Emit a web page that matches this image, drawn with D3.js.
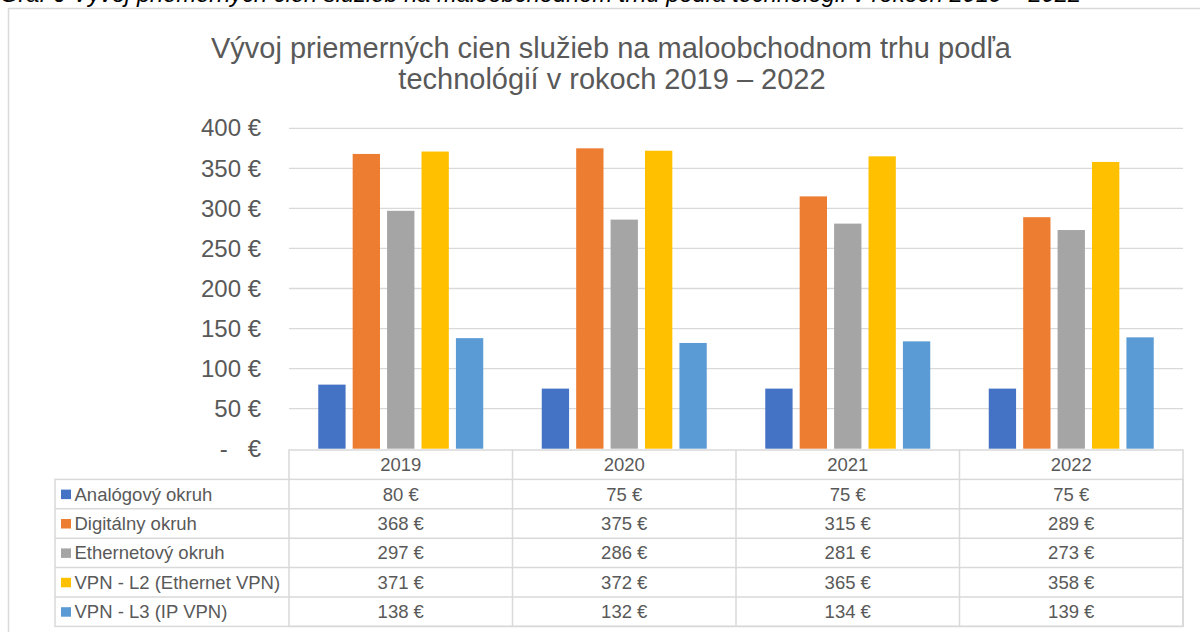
<!DOCTYPE html>
<html>
<head>
<meta charset="utf-8">
<script src="https://cdn.jsdelivr.net/npm/d3@7"></script>
<style>
  body { margin: 0; background: #fff; }
  text { font-family: "Liberation Sans", Arial, sans-serif; }
</style>
</head>
<body>
<svg id="chart" width="1200" height="632"></svg>
<script>
// data
var years = ["2019", "2020", "2021", "2022"];
var seriesNames = ["Analógový okruh", "Digitálny okruh", "Ethernetový okruh", "VPN - L2 (Ethernet VPN)", "VPN - L3 (IP VPN)"];
var analogovy = [80, 75, 75, 75];
var digitalny = [368, 375, 315, 289];
var ethernetovy = [297, 286, 281, 273];
var vpnL2 = [371, 372, 365, 358];
var vpnL3 = [138, 132, 134, 139];
var yTicks = [0, 50, 100, 150, 200, 250, 300, 350, 400];
var colors = ["#4472C4", "#ED7D31", "#A5A5A5", "#FFC000", "#5B9BD5"];

var seriesValues = [analogovy, digitalny, ethernetovy, vpnL2, vpnL3];

var svg = d3.select("#chart");
var grid = "#d9d9d9", txt = "#595959";

// caption above the chart (cut off at the top in the reference)
svg.append("text")
   .attr("x", 0).attr("y", 1.5)
   .attr("font-size", 23.7)
   .attr("font-style", "italic")
   .attr("fill", "#000")
   .text("Graf 6 Vývoj priemerných cien služieb na maloobchodnom trhu podľa technológií v rokoch 2019 – 2022");

// chart frame
svg.append("rect")
   .attr("x", 8.5).attr("y", 8.5)
   .attr("width", 1210).attr("height", 640)
   .attr("fill", "none").attr("stroke", grid).attr("stroke-width", 1.5);

// title
var title = svg.append("text")
   .attr("text-anchor", "middle")
   .attr("font-size", 29)
   .attr("fill", txt);
title.append("tspan").attr("x", 611).attr("y", 58).text("Vývoj priemerných cien služieb na maloobchodnom trhu podľa");
title.append("tspan").attr("x", 612).attr("y", 89).text("technológií v rokoch 2019 – 2022");

var plot = {left: 289, right: 1183, top: 128.3, bottom: 448.7};

var x0 = d3.scaleBand().domain(years).range([plot.left, plot.right]).padding(0);
var x1 = d3.scaleBand().domain(d3.range(seriesNames.length))
           .range([0, x0.bandwidth()]).paddingInner(0.206).paddingOuter(0.85);
var y = d3.scaleLinear().domain([0, 400]).range([plot.bottom, plot.top]);

// gridlines
svg.append("g")
   .selectAll("line")
   .data(yTicks.filter(function(d) { return d > 0; }))
   .enter().append("line")
   .attr("x1", plot.left).attr("x2", plot.right)
   .attr("y1", function(d) { return y(d); })
   .attr("y2", function(d) { return y(d); })
   .attr("stroke", grid).attr("stroke-width", 1.3);

// y axis labels
var yAxis = svg.append("g")
   .attr("transform", "translate(" + plot.left + ",0)")
   .call(d3.axisLeft(y).tickValues(yTicks).tickSize(0).tickPadding(28)
           .tickFormat(function(d) { return d === 0 ? "-   €" : d + " €"; }));
yAxis.select(".domain").remove();
yAxis.selectAll("text")
   .attr("font-size", 24)
   .attr("fill", txt)
   .style("font-family", "'Liberation Sans', Arial, sans-serif")
   .style("white-space", "pre");

// bars
var groups = svg.append("g")
   .selectAll("g")
   .data(years)
   .enter().append("g")
   .attr("transform", function(d) { return "translate(" + x0(d) + ",0)"; });

groups.selectAll("rect")
   .data(function(d, i) { return seriesValues.map(function(s, k) { return {k: k, v: s[i]}; }); })
   .enter().append("rect")
   .attr("x", function(d) { return x1(d.k); })
   .attr("width", x1.bandwidth())
   .attr("y", function(d) { return y(d.v); })
   .attr("height", function(d) { return y(0) - y(d.v); })
   .attr("fill", function(d) { return colors[d.k]; });

// data table
var headTop = 450, rowH = 29.4, legLeft = 55;
var table = svg.append("g");

table.append("rect")
   .attr("x", plot.left).attr("y", headTop)
   .attr("width", plot.right - plot.left).attr("height", rowH * 6)
   .attr("fill", "none").attr("stroke", grid).attr("stroke-width", 1.5);
table.append("rect")
   .attr("x", legLeft).attr("y", headTop + rowH)
   .attr("width", plot.right - legLeft).attr("height", rowH * 5)
   .attr("fill", "none").attr("stroke", grid).attr("stroke-width", 1.5);

// vertical separators
table.selectAll("line.v")
   .data(years.slice(1))
   .enter().append("line")
   .attr("class", "v")
   .attr("x1", function(d) { return x0(d); }).attr("x2", function(d) { return x0(d); })
   .attr("y1", headTop).attr("y2", headTop + rowH * 6)
   .attr("stroke", grid).attr("stroke-width", 1.5);

// horizontal separators
table.selectAll("line.h")
   .data(d3.range(2, 6))
   .enter().append("line")
   .attr("class", "h")
   .attr("x1", legLeft).attr("x2", plot.right)
   .attr("y1", function(d) { return headTop + rowH * d; })
   .attr("y2", function(d) { return headTop + rowH * d; })
   .attr("stroke", grid).attr("stroke-width", 1.5);

// header years
table.selectAll("text.year")
   .data(years)
   .enter().append("text")
   .attr("class", "year")
   .attr("x", function(d) { return x0(d) + x0.bandwidth() / 2; })
   .attr("y", headTop + rowH / 2 + 6.5)
   .attr("text-anchor", "middle")
   .attr("font-size", 18.5)
   .attr("fill", txt)
   .text(function(d) { return d; });

// rows
var rows = table.selectAll("g.row")
   .data(seriesNames)
   .enter().append("g")
   .attr("class", "row")
   .attr("transform", function(d, i) { return "translate(0," + (headTop + rowH * (i + 1)) + ")"; });

rows.append("rect")
   .attr("x", 61).attr("y", rowH / 2 - 4.5)
   .attr("width", 10).attr("height", 9.5)
   .attr("fill", function(d, i) { return colors[i]; });

rows.append("text")
   .attr("x", 74.5).attr("y", rowH / 2 + 6.5)
   .attr("font-size", 18.5)
   .attr("fill", txt)
   .text(function(d) { return d; });

rows.each(function(name, i) {
    d3.select(this).selectAll("text.val")
      .data(seriesValues[i])
      .enter().append("text")
      .attr("class", "val")
      .attr("x", function(d, j) { return x0(years[j]) + x0.bandwidth() / 2; })
      .attr("y", rowH / 2 + 6.5)
      .attr("text-anchor", "middle")
      .attr("font-size", 18.5)
      .attr("fill", txt)
      .text(function(d) { return d + " €"; });
});
</script>
</body>
</html>
